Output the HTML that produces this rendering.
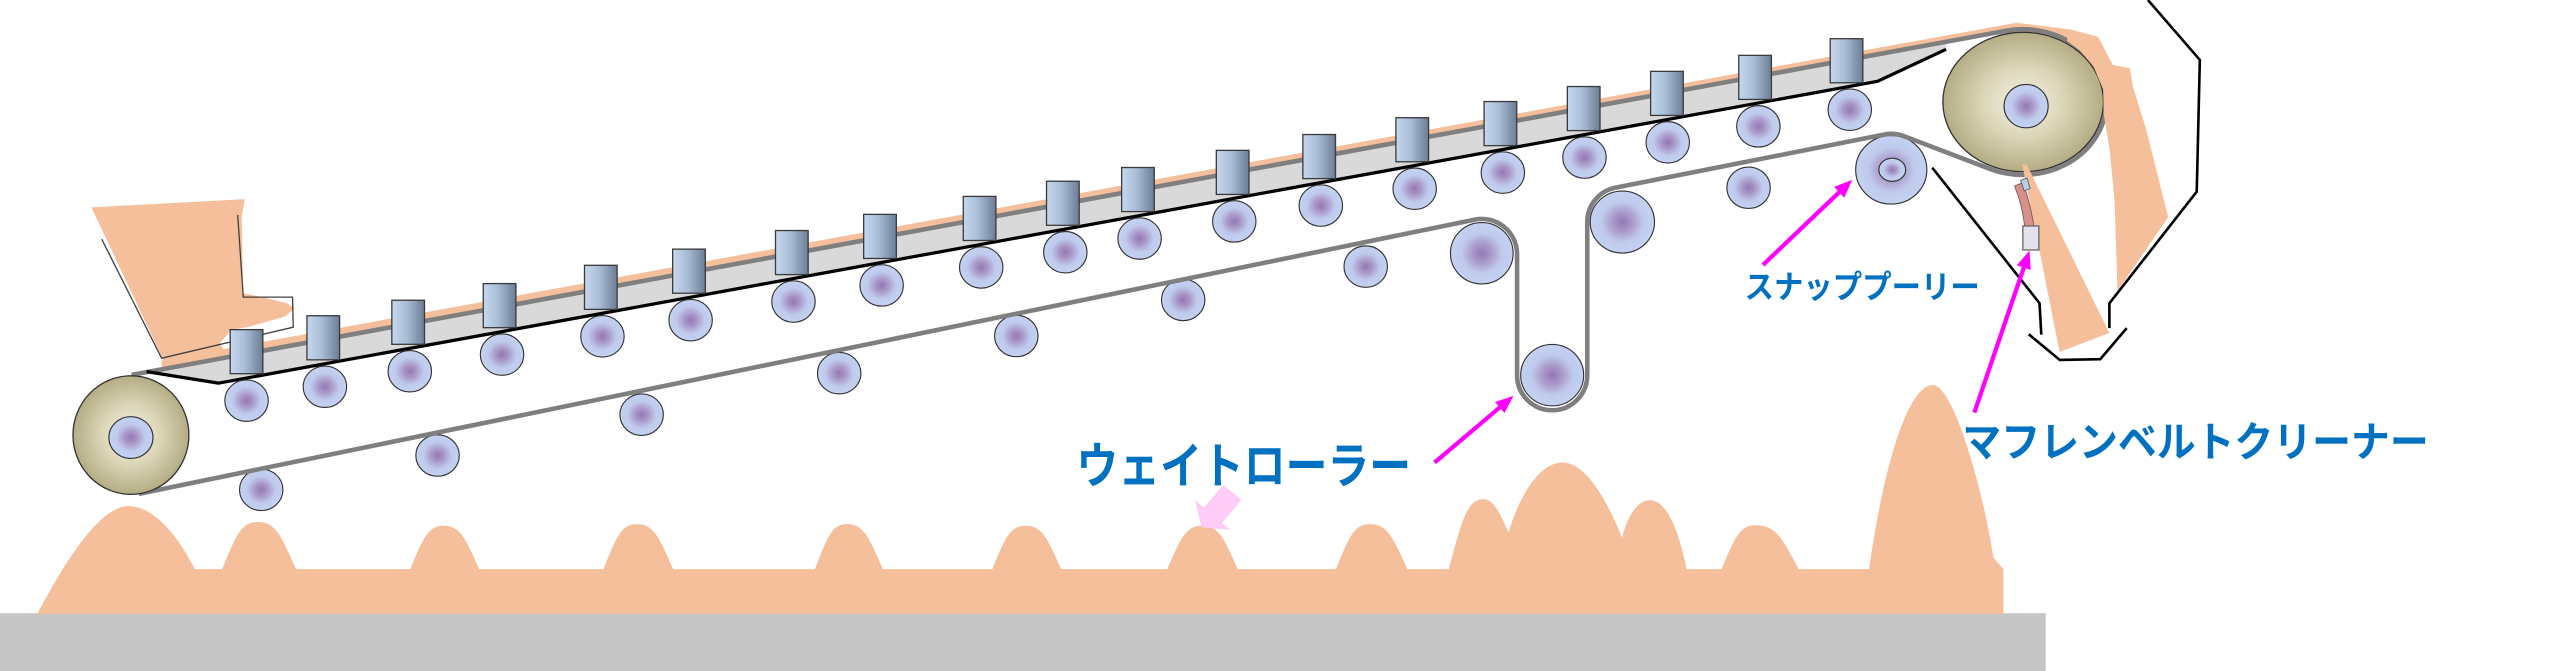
<!DOCTYPE html>
<html>
<head>
<meta charset="utf-8">
<style>
html,body{margin:0;padding:0;background:#fff;overflow:hidden;}
svg{display:block;}
text{font-family:"Liberation Sans","Noto Sans CJK JP",sans-serif;fill:#0070c0;font-weight:bold;}
</style>
</head>
<body>
<svg width="2560" height="671" viewBox="0 0 1568 411" preserveAspectRatio="none" xmlns="http://www.w3.org/2000/svg">
<defs>
<radialGradient id="rg" cx="0.5" cy="0.5" r="0.5">
<stop offset="0" stop-color="#9478b4"/>
<stop offset="0.3" stop-color="#a998c9"/>
<stop offset="0.65" stop-color="#bfcaec"/>
<stop offset="1" stop-color="#c5d2f2"/>
</radialGradient>
<radialGradient id="pg" cx="0.5" cy="0.5" r="0.5">
<stop offset="0" stop-color="#f4f1e4"/>
<stop offset="0.5" stop-color="#dcd6b8"/>
<stop offset="1" stop-color="#b4ac84"/>
</radialGradient>
<linearGradient id="cg" x1="0" y1="0" x2="1" y2="0">
<stop offset="0" stop-color="#c6d8ef"/>
<stop offset="0.45" stop-color="#a9bdd6"/>
<stop offset="1" stop-color="#6c7d95"/>
</linearGradient>
</defs>

<!-- ground -->
<rect x="0" y="375.6" width="1253" height="36" fill="#c6c6c6"/>

<!-- sand -->
<path fill="#f6bf9b" d="M 22.9,376 C 42,340 62,310 78.7,310 C 95,310 110,330 119.3,348.6
L 136.1,348.6 c 8.7,-21.7 12,-28.9 21.8,-28.9 c 10.5,0 14,7.2 23.4,28.9
L 251.4,348.6 c 8.1,-20 11.2,-26.6 20.3,-26.6 c 9.8,0 13.1,6.7 21.8,26.6
L 369.7,348.6 c 8.1,-20.7 11.2,-27.6 20.3,-27.6 c 10,0 13.4,6.9 22.3,27.6
L 499.2,348.6 c 7.8,-20.7 10.7,-27.6 19.4,-27.6 c 10,0 13.3,6.9 22.2,27.6
L 607.8,348.6 c 8.1,-20 11.2,-26.6 20.3,-26.6 c 9.9,0 13.1,6.7 21.9,26.6
L 715,348.6 c 8.5,-20 11.7,-26.6 21.3,-26.6 c 9.9,0 13.1,6.7 21.9,26.6
L 818.3,348.6 c 8.3,-20.7 11.4,-27.6 20.8,-27.6 c 10.3,0 13.7,6.9 22.9,27.6
L 887.4,348.6 c 8.5,-32.1 11.7,-42.8 21.3,-42.8 c 6,0 10,8 15.2,20.4 c 6,-20 18,-42.9 33.1,-42.9 c 15,0 28,25 36.5,46 c 3,-12 9,-22.9 16.8,-22.9 c 10,0 17,15 22.8,42.2
L 1054.5,348.6 c 8.3,-20.2 11.4,-26.9 20.8,-26.9 c 11.9,0 15.8,6.7 26.4,26.9
L 1144.8,348.6 c 10,-70 25,-112.8 39.1,-112.8 c 12,0 30,60 37.1,105.7
L 1227.1,348.6 L 1227.1,376 Z"/>

<!-- pink block arrow -->
<polygon fill="#ffccf7" points="735.9,322.9 731.8,306.2 737.4,310.9 749.1,297 760.4,306.2 748.5,320.3 753.6,324.6"/>

<!-- orange material: hopper, belt strip, right band -->
<polygon fill="#f6bf9b" points="56,127 150,122 148,132.7 149,179.6 159.2,181.7 175.6,185.7 180.6,188.8 174.5,193.9 153.1,200 141.9,202 134.7,210.2 140,219 100,226 99.8,220"/>
<polygon fill="#f6bf9b" points="99,220.7 1235,13.9 1267.6,18 1285,22.5 1294.1,39.8 1304.4,41.8 1306.4,53.1 1314.6,79.6 1328,133 1297,178 1295.2,122.5 1292.2,91.9 1289,62 1239,62 1228,20 99,225.2"/>

<!-- hopper lines -->
<polyline fill="none" stroke="#404040" stroke-width="0.8" points="62.3,146.5 99,219.4 179.6,200.4 179.2,182 149,182 145.6,131.7"/>

<!-- trough fill -->
<polygon fill="#d9d9d9" points="82,229.3 1192,25.6 1192,30.2 1150,49.8 133.7,234.7 89.8,227.6"/>

<!-- lower return rollers -->
<g fill="url(#rg)" stroke="#333" stroke-width="0.7">
<ellipse cx="160" cy="300" rx="13.3" ry="12.7"/>
<ellipse cx="268" cy="279" rx="13.3" ry="12.7"/>
<ellipse cx="393" cy="254" rx="13.3" ry="12.7"/>
<ellipse cx="514" cy="228.6" rx="13.3" ry="12.7"/>
<ellipse cx="622.5" cy="205.8" rx="13.3" ry="12.7"/>
<ellipse cx="724.7" cy="183.7" rx="13.3" ry="12.7"/>
<ellipse cx="836.5" cy="163.3" rx="13.3" ry="12.7"/>
<ellipse cx="1071" cy="115" rx="13.3" ry="12.7"/>
<ellipse cx="907.6" cy="155.1" rx="19.2" ry="18.8"/>
<ellipse cx="950.7" cy="229.8" rx="19.3" ry="18.8"/>
<ellipse cx="993.7" cy="136" rx="19.7" ry="19"/>
<ellipse cx="1158.4" cy="104" rx="21.8" ry="21"/>
<ellipse cx="1159" cy="104" rx="8.2" ry="7.1"/>
</g>

<!-- belt -->
<path fill="none" stroke="#7f7f7f" stroke-width="2.8" stroke-linejoin="round"
d="M 85,302.5 L 903.4,134.5 A 21.6 21.6 0 0 1 929.2,155.1 L 929.2,229.8 A 21.5 21.5 0 0 0 972.2,229.8 L 972.2,136 A 21.5 21.5 0 0 1 989.6,114.9 L 1154.2,82.4 A 22 22 0 0 1 1165.9,83.3 L 1219.1,103.55 A 51 44.6 0 1 0 1228.4,18.9 L 80.6,229.6"/>

<!-- black trough line -->
<polyline fill="none" stroke="#000" stroke-width="2" stroke-linejoin="round" points="89.8,227.6 133.7,234.7 1150,49.8 1192,30.2"/>

<!-- pulleys -->
<ellipse cx="1239.2" cy="62.5" rx="49.2" ry="42.7" fill="url(#pg)" stroke="#333" stroke-width="0.8"/>
<ellipse cx="1241" cy="65" rx="13.5" ry="13.3" fill="url(#rg)" stroke="#333" stroke-width="0.7"/>
<ellipse cx="80.2" cy="266.5" rx="35.5" ry="36.3" fill="url(#pg)" stroke="#333" stroke-width="0.8"/>
<ellipse cx="80.2" cy="268" rx="13.5" ry="12.8" fill="url(#rg)" stroke="#333" stroke-width="0.7"/>

<!-- orange right band over belt -->
<polygon fill="#f6bf9b" points="1267.7,18 1285,22.5 1294.1,39.8 1304.4,41.8 1306.4,53.1 1314.6,79.6 1328,133 1297,178 1295.2,122.5 1292.2,91.9 1288.5,70 1288.2,54.9 1282.3,40.7 1274,31 1266,25"/>

<!-- falling stream -->
<polygon fill="#f6bf9b" points="1238.6,100.5 1241.5,101 1292,204 1261.5,215.5"/>

<!-- cleaner -->
<path d="M 1233.9,113.9 L 1239,111.9 Q 1243.5,124 1245.8,138.4 L 1240.1,138.4 Q 1238.5,125 1233.9,113.9 Z" fill="#d8908a" stroke="#7a5050" stroke-width="0.5"/>
<polygon points="1237.6,110.5 1241.5,109 1243.5,115.5 1239.8,117" fill="#b8cce4" stroke="#555" stroke-width="0.5"/>
<rect x="1239" y="138.4" width="9.8" height="14.7" fill="#e4e0ec" stroke="#666" stroke-width="0.8"/>

<!-- chute lines -->
<g fill="none" stroke="#000" stroke-width="1.6" stroke-linejoin="miter">
<polyline points="1315.6,0 1347.4,36.7 1345.5,117.4 1292,185.8 1292,201"/>
<polyline points="1183.5,102.7 1249.2,185.7 1250.3,205"/>
<polyline points="1242.6,204.7 1261.6,220.5 1286.4,220 1302.6,201"/>
</g>

<!-- idler cylinders -->
<g fill="url(#cg)" stroke="#3a3a3a" stroke-width="0.8">
<rect x="141" y="201.9" width="20" height="27"/>
<rect x="188" y="193.4" width="20" height="27"/>
<rect x="240" y="183.9" width="20" height="27"/>
<rect x="296" y="173.7" width="20" height="27"/>
<rect x="358" y="162.5" width="20" height="27"/>
<rect x="412" y="152.6" width="20" height="27"/>
<rect x="475" y="141.2" width="20" height="27"/>
<rect x="529" y="131.3" width="20" height="27"/>
<rect x="590" y="120.3" width="20" height="27"/>
<rect x="641" y="111.0" width="20" height="27"/>
<rect x="687" y="102.6" width="20" height="27"/>
<rect x="745" y="92.1" width="20" height="27"/>
<rect x="798" y="82.4" width="20" height="27"/>
<rect x="855" y="72.1" width="20" height="27"/>
<rect x="909" y="62.2" width="20" height="27"/>
<rect x="960" y="53.0" width="20" height="27"/>
<rect x="1011" y="43.7" width="20" height="27"/>
<rect x="1065" y="33.9" width="20" height="27"/>
<rect x="1121" y="23.7" width="20" height="27"/>
</g>

<!-- upper carrying rollers -->
<g fill="url(#rg)" stroke="#333" stroke-width="0.7">
<ellipse cx="151" cy="245.4" rx="13.3" ry="12.7"/>
<ellipse cx="199" cy="236.9" rx="13.3" ry="12.7"/>
<ellipse cx="251" cy="227.4" rx="13.3" ry="12.7"/>
<ellipse cx="307.5" cy="217.2" rx="13.3" ry="12.7"/>
<ellipse cx="369" cy="206" rx="13.3" ry="12.7"/>
<ellipse cx="423" cy="196.1" rx="13.3" ry="12.7"/>
<ellipse cx="486" cy="184.7" rx="13.3" ry="12.7"/>
<ellipse cx="540" cy="174.8" rx="13.3" ry="12.7"/>
<ellipse cx="601" cy="163.8" rx="13.3" ry="12.7"/>
<ellipse cx="652.5" cy="154.5" rx="13.3" ry="12.7"/>
<ellipse cx="698" cy="146.1" rx="13.3" ry="12.7"/>
<ellipse cx="756" cy="135.6" rx="13.3" ry="12.7"/>
<ellipse cx="809" cy="125.9" rx="13.3" ry="12.7"/>
<ellipse cx="866.5" cy="115.6" rx="13.3" ry="12.7"/>
<ellipse cx="920.5" cy="105.7" rx="13.3" ry="12.7"/>
<ellipse cx="970.5" cy="96.5" rx="13.3" ry="12.7"/>
<ellipse cx="1021.5" cy="87.2" rx="13.3" ry="12.7"/>
<ellipse cx="1077" cy="77.4" rx="13.3" ry="12.7"/>
<ellipse cx="1133" cy="67.2" rx="13.3" ry="12.7"/>
</g>

<!-- magenta arrows -->
<g stroke="#ff00ff" stroke-width="2.6" fill="none">
<line x1="878.7" y1="283.3" x2="919.5" y2="248.8"/>
<line x1="1079.8" y1="162.3" x2="1127.2" y2="117.1"/>
<line x1="1209.3" y1="252.7" x2="1239.9" y2="163"/>
</g>
<g fill="#ff00ff">
<polygon points="927,242.5 921.5,253.0 915.7,246.2"/>
<polygon points="1134.5,110.2 1129.6,121.1 1123.4,114.5"/>
<polygon points="1243.1,153.5 1243.8,165.35 1235.3,162.45"/>
</g>

<!-- labels -->
<text x="659.3" y="295.9" font-size="30" textLength="205" lengthAdjust="spacingAndGlyphs">ウェイトローラー</text>
<text x="1068.6" y="182.4" font-size="19.5" textLength="144" lengthAdjust="spacingAndGlyphs">スナッププーリー</text>
<text x="1202" y="279.6" font-size="25.5" textLength="285.6" lengthAdjust="spacingAndGlyphs">マフレンベルトクリーナー</text>
</svg>
</body>
</html>
